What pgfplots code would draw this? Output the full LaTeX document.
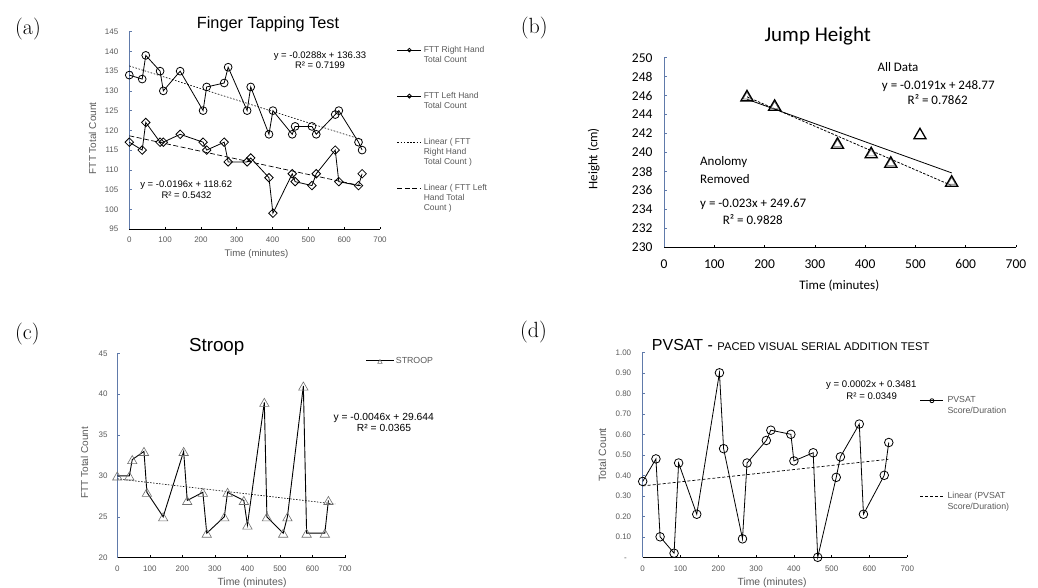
\documentclass[border=0pt]{standalone}
\usepackage{pgfplots}
\pgfplotsset{compat=1.18}
\usepackage{fontspec}
\newfontfamily\hv{Liberation Sans}
\newfontfamily\cb{Carlito}
\definecolor{blueax}{RGB}{96,122,170}
\definecolor{txtgray}{RGB}{89,89,89}
\definecolor{mkgray}{RGB}{110,110,110}
\newcommand{\fs}[2]{\fontsize{#1}{#2}\selectfont}
\newcommand{\tthree}[3]{\begin{tabular}{@{}l@{}}#1\strut\\#2\strut\\#3\strut\end{tabular}}
\newcommand{\ttwo}[2]{\begin{tabular}{@{}l@{}}#1\strut\\#2\strut\end{tabular}}

\pgfplotsset{
  excel/.style={
    scale only axis, anchor=south west, clip=false,
    axis x line*=bottom, axis y line*=left,
    axis line style={-},
    x axis line style={black, line width=0.7pt},
    y axis line style={blueax, line width=0.7pt},
    tick align=inside, major tick length=2.5pt,
    major x tick style={black, line width=0.5pt},
    major y tick style={blueax, line width=0.5pt},
    /pgf/number format/assume math mode=true,
    /pgf/number format/1000 sep={},
    xmin=0, xmax=700, xtick={0,100,...,700},
    legend cell align=left,
  },
  xllegend/.style={legend style={draw=none, fill=none, inner sep=0pt, outer sep=0pt,
    nodes={inner sep=0pt, text depth=}, anchor=north west, text=txtgray}},
  legmark/.style n args={3}{legend image code/.code={%
    \draw[##1, mark size=#2, mark repeat=2, mark phase=2]
      plot coordinates {(0pt,#1) ({#3/2},#1) (#3,#1)};}},
  legline/.style 2 args={legend image code/.code={\draw[##1] (0pt,#1) -- (#2,#1);}},
}

\begin{document}
\begin{tikzpicture}
\useasboundingbox (0,0) rectangle (1038pt,-588pt);

% (a) finger tapping
\begin{axis}[excel, at={(129.3pt,-229pt)}, width=250.7pt, height=197.3pt,
  ymin=95, ymax=145, ytick={95,100,...,145},
  tick label style={font=\hv\fs{8}{9.6}, text=txtgray},
  yticklabel style={xshift=-7.5pt}, xticklabel style={yshift=-4.5pt},
  xllegend, legend style={at={(1.0678,0.932)}, row sep=16pt,
    font=\hv\fs{8.5}{10}, /tikz/column sep=2pt},
]
\addplot[black, line width=0.8pt, mark=o, mark size=3.9pt,
  mark options={solid, line width=0.8pt}, legmark={10pt}{1.8pt}{24pt}]
  coordinates {(0,134) (36,133) (46,139) (86,135) (95,130) (142,135) (206,125)
  (216,131) (265,132) (276,136) (329,125) (339,131) (390,119) (401,125) (455,119)
  (463,121) (510,121) (522,119) (575,124) (585,125) (640,117) (650,115)};
\addlegendentry{\tthree{FTT Right Hand}{Total Count}{}}
\addplot[black, line width=0.8pt, mark=square, mark size=3pt,
  mark options={solid, rotate=45, line width=0.8pt}, legmark={10pt}{1.4pt}{24pt}]
  coordinates {(0,117) (36,115) (46,122) (86,117) (95,117) (142,119) (206,117)
  (216,115) (265,117) (276,112) (329,112) (339,113) (390,108) (401,99) (455,109)
  (463,107) (510,106) (522,109) (575,115) (585,107) (640,106) (650,109)};
\addlegendentry{\tthree{FTT Left Hand}{Total Count}{}}
\addplot[black, line width=0.6pt, dash pattern=on 1.6pt off 1.6pt, legline={10pt}{24pt}]
  coordinates {(0,136.33) (650,117.61)};
\addlegendentry{\tthree{Linear ( FTT}{Right Hand}{Total Count )}}
\addplot[black, line width=0.7pt, dash pattern=on 5pt off 2.5pt, legline={10pt}{24pt}]
  coordinates {(0,118.62) (650,105.88)};
\addlegendentry{\tthree{Linear ( FTT Left}{Hand Total}{Count )}}
\end{axis}

% (b) jump height
\begin{axis}[excel, at={(664pt,-247.3pt)}, width=352pt, height=189.6pt,
  ymin=230, ymax=250, ytick={230,232,...,250},
  tick label style={font=\cb\fs{13.5}{16}, text=black},
  yticklabel style={xshift=-8pt}, xticklabel style={yshift=-8.5pt},
]
\addplot[black, line width=0.8pt] coordinates {(165,245.62) (572,237.85)};
\addplot[black, line width=0.8pt, dash pattern=on 2.5pt off 1.5pt]
  coordinates {(165,245.875) (572,236.514)};
\addplot[only marks, mark=triangle, mark size=4.5pt,
  mark options={mkgray, line width=0.6pt, yshift=-1.1pt}]
  coordinates {(165,246) (220,245) (345,241) (412,240) (451,239) (572,237)};
\addplot[only marks, mark=triangle, mark size=7pt,
  mark options={black, line width=1.3pt, yshift=-1.75pt}]
  coordinates {(165,246) (220,245) (345,241) (412,240) (451,239) (509,242) (572,237)};
\end{axis}

% (c) stroop
\begin{axis}[excel, at={(117.3pt,-557.7pt)}, width=227.7pt, height=204.4pt,
  ymin=20, ymax=45, ytick={20,25,...,45},
  tick label style={font=\hv\fs{8}{9.6}, text=txtgray},
  yticklabel style={xshift=-6.3pt}, xticklabel style={yshift=-5pt},
  xllegend, legend style={at={(1.0909,0.9638)}, anchor=west,
    font=\hv\fs{8.8}{10.5}, /tikz/column sep=1.7pt},
]
\addplot[black, line width=0.9pt, mark=triangle, mark size=5.4pt,
  mark options={solid, draw=mkgray, line width=0.6pt, yshift=-1.35pt},
  legmark={0pt}{2.5pt}{27.6pt}]
  coordinates {(0,30) (37,30) (46,32) (82,33) (91,28) (141,25) (204,33) (215,27)
  (263,28) (275,23) (329,25) (339,28) (389,27) (400,24) (452,39) (460,25) (510,23)
  (523,25) (572,41) (582,23) (638,23) (649,27)};
\addlegendentry{STROOP}
\addplot[black, line width=0.6pt, dash pattern=on 1.5pt off 1.5pt, forget plot]
  coordinates {(0,29.644) (670,26.562)};
\end{axis}

% (d) pvsat
\begin{axis}[excel, at={(642.7pt,-557.3pt)}, width=264.6pt, height=205pt,
  ymin=0, ymax=1, ytick={0,0.1,0.2,0.3,0.4,0.5,0.6,0.7,0.8,0.9,1},
  yticklabels={{-\phantom{0}},0.10,0.20,0.30,0.40,0.50,0.60,0.70,0.80,0.90,1.00},
  tick label style={font=\hv\fs{8}{9.6}, text=txtgray},
  yticklabel style={xshift=-8pt}, xticklabel style={yshift=-5.4pt},
  xllegend, legend style={at={(1.048,0.7895)}, row sep=75pt,
    font=\hv\fs{8.8}{10.5}, /tikz/column sep=3.7pt},
]
\addplot[black, line width=0.8pt, mark=o, mark size=4.3pt,
  mark options={solid, line width=0.8pt}, legmark={5.25pt}{2pt}{23pt}]
  coordinates {(0,0.37) (35,0.48) (46,0.10) (83,0.02) (95,0.46) (143,0.21)
  (203,0.90) (214,0.53) (264,0.09) (276,0.46) (327,0.57) (339,0.62) (392,0.60)
  (400,0.47) (451,0.51) (463,0.00) (512,0.39) (523,0.49) (573,0.65) (584,0.21)
  (639,0.40) (651,0.56)};
\addlegendentry{\ttwo{PVSAT}{Score/Duration}}
\addplot[black, line width=0.7pt, dash pattern=on 3pt off 2pt, legline={5.25pt}{23pt}]
  coordinates {(0,0.3481) (650,0.4781)};
\addlegendentry{\ttwo{Linear (PVSAT}{Score/Duration)}}
\end{axis}

% panel letters
\node[font=\rmfamily\fs{22}{26}, anchor=west, inner sep=0pt] at (15pt,-29.3pt) {(a)};
\node[font=\rmfamily\fs{22}{26}, anchor=west, inner sep=0pt] at (520.7pt,-28.3pt) {(b)};
\node[font=\rmfamily\fs{22}{26}, anchor=west, inner sep=0pt] at (15pt,-333.8pt) {(c)};
\node[font=\rmfamily\fs{22}{26}, anchor=west, inner sep=0pt] at (520pt,-332.5pt) {(d)};

% (a) texts
\node[font=\hv\fs{16.3}{19}, anchor=base] at (268pt,-28.3pt) {Finger Tapping Test};
\node[font=\hv\fs{10}{12}, text=txtgray, rotate=90, anchor=base] at (96pt,-138.3pt) {FTT Total Count};
\node[font=\hv\fs{9.6}{11}, text=txtgray, anchor=base] at (256.5pt,-256.2pt) {Time (minutes)};
\node[font=\hv\fs{9.5}{11}, anchor=base] at (320pt,-58.7pt) {y = -0.0288x + 136.33};
\node[font=\hv\fs{9.5}{11}, anchor=base] at (320pt,-69pt) {R² = 0.7199};
\node[font=\hv\fs{9.5}{11}, anchor=base] at (186.2pt,-187.3pt) {y = -0.0196x + 118.62};
\node[font=\hv\fs{9.5}{11}, anchor=base] at (186.5pt,-198pt) {R² = 0.5432};

% (b) texts
\node[font=\cb\fs{21}{25}, anchor=base] at (817.7pt,-41.5pt) {Jump Height};
\node[font=\cb\fs{13}{15}, rotate=90, anchor=base] at (597.3pt,-158.8pt) {Height (cm)};
\node[font=\cb\fs{13}{15}, anchor=base] at (839.3pt,-289.4pt) {Time (minutes)};
\node[font=\cb\fs{13}{15}, anchor=base west, inner sep=0pt] at (877.3pt,-71.7pt) {All Data};
\node[font=\cb\fs{13}{15}, anchor=base] at (938.3pt,-89.4pt) {y = -0.0191x + 248.77};
\node[font=\cb\fs{13}{15}, anchor=base] at (937.7pt,-105pt) {R² = 0.7862};
\node[font=\cb\fs{13}{15}, anchor=base west, inner sep=0pt] at (700pt,-166pt) {Anolomy};
\node[font=\cb\fs{13}{15}, anchor=base west, inner sep=0pt] at (700pt,-184pt) {Removed};
\node[font=\cb\fs{13}{15}, anchor=base west, inner sep=0pt] at (700pt,-207.7pt) {y = -0.023x + 249.67};
\node[font=\cb\fs{13}{15}, anchor=base] at (752.8pt,-224.4pt) {R² = 0.9828};

% (c) texts
\node[font=\hv\fs{18.8}{22}, anchor=base] at (216.7pt,-351.5pt) {Stroop};
\node[font=\hv\fs{10}{12}, text=txtgray, rotate=90, anchor=base] at (88pt,-462.7pt) {FTT Total Count};
\node[font=\hv\fs{10.4}{12}, text=txtgray, anchor=base] at (252pt,-585.3pt) {Time (minutes)};
\node[font=\hv\fs{10.3}{12}, anchor=base] at (383.7pt,-420.7pt) {y = -0.0046x + 29.644};
\node[font=\hv\fs{10.3}{12}, anchor=base] at (384pt,-431.7pt) {R² = 0.0365};

% (d) texts
\node[font=\hv, anchor=base west, inner sep=0pt] at (651.7pt,-350.8pt)
  {\fs{16}{19}PVSAT - \fs{11.2}{13}PACED VISUAL SERIAL ADDITION TEST};
\node[font=\hv\fs{10.5}{12}, text=txtgray, rotate=90, anchor=base] at (606pt,-454.7pt) {Total Count};
\node[font=\hv\fs{10.4}{12}, text=txtgray, anchor=base] at (772pt,-585.3pt) {Time (minutes)};
\node[font=\hv\fs{9.6}{11}, anchor=base] at (871.3pt,-387.7pt) {y = 0.0002x + 0.3481};
\node[font=\hv\fs{9.6}{11}, anchor=base] at (871.7pt,-399pt) {R² = 0.0349};
\end{tikzpicture}
\end{document}
